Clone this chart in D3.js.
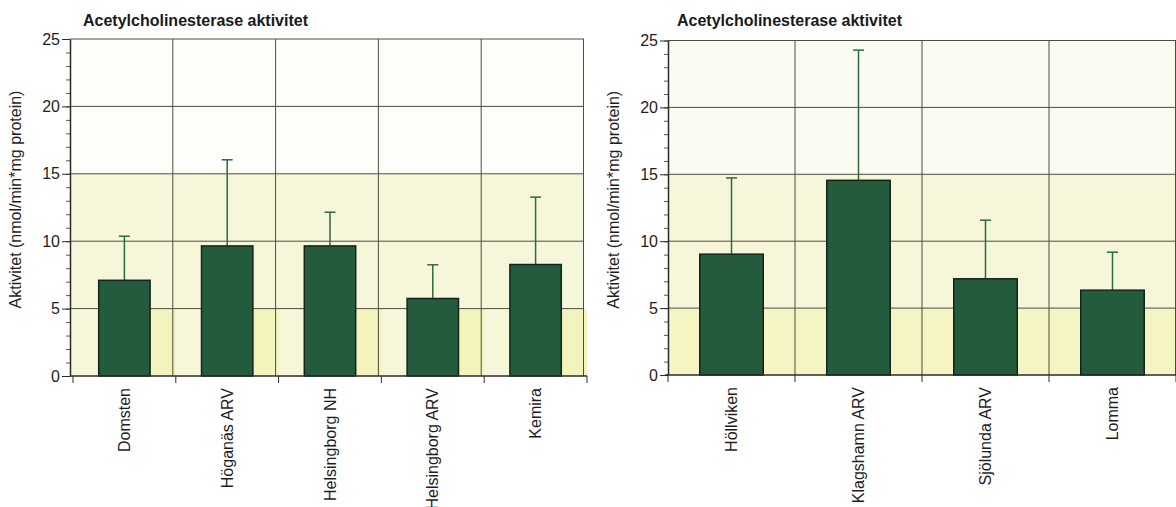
<!DOCTYPE html>
<html>
<head>
<meta charset="utf-8">
<script src="https://cdn.jsdelivr.net/npm/d3@7"></script>
<style>
  body { margin: 0; background: #fff; }
  svg { display: block; font-family: 'Liberation Sans', Arial, sans-serif; }
</style>
</head>
<body>
<div id="container"></div>
<script>
// values
let title = 'Acetylcholinesterase aktivitet'
let yLabel = 'Aktivitet (nmol/min*mg protein)'
let yTicks = [0, 5, 10, 15, 20, 25]

let leftSites = ['Domsten', 'Höganäs ARV', 'Helsingborg NH', 'Helsingborg ARV', 'Kemira']
let leftMeans = [7.1, 9.65, 9.65, 5.75, 8.27]
let leftSd = [3.27, 6.39, 2.5, 2.5, 5.0]

let rightSites = ['Höllviken', 'Klagshamn ARV', 'Sjölunda ARV', 'Lomma']
let rightMeans = [9.03, 14.55, 7.19, 6.34]
let rightSd = [5.7, 9.73, 4.38, 2.84]

// shaded background bands, in y units
let zones = [[0, 5], [5, 15], [15, 25]]

let width = 1176,
  height = 507

let svg = d3.select('#container')
  .append('svg')
  .attr('width', width)
  .attr('height', height)

drawChart({
  sites: leftSites, means: leftMeans, sd: leftSd,
  left: 70, right: 584, top: 39, bottom: 376, shift: 3,
  titleX: 83, labelX: 21,
  zoneColors: ['#f6f7d9', '#f6f7da', '#fdfdf9'], lowRight: true
})

drawChart({
  sites: rightSites, means: rightMeans, sd: rightSd,
  left: 668, right: 1176, top: 40.5, bottom: 375, shift: 0,
  titleX: 677, labelX: 619,
  zoneColors: ['#f4f5c3', '#f6f7da', '#fbfbf1'], lowRight: false
})

function drawChart(o) {
  let data = o.sites.map((s, i) => ({ site: s, mean: o.means[i], sd: o.sd[i] }))

  let x = d3.scaleBand().domain(o.sites).range([o.left, o.right])
  // bars take half of each column
  let xBar = d3.scaleBand().domain(o.sites).range([o.left, o.right])
    .paddingInner(0.5).paddingOuter(0.25)
  let y = d3.scaleLinear().domain([0, 25]).range([o.bottom, o.top])

  let g = svg.append('g')

  // background bands
  g.selectAll('rect.zone')
    .data(zones)
    .enter().append('rect')
    .attr('class', 'zone')
    .attr('x', o.left)
    .attr('width', o.right - o.left)
    .attr('y', d => y(d[1]))
    .attr('height', d => y(d[0]) - y(d[1]))
    .attr('fill', (d, i) => o.zoneColors[i])

  // stronger yellow floor on the right of every bar
  let floorW = o.lowRight ? x.bandwidth() * 0.25 : 0
  g.selectAll('rect.floor')
    .data(o.lowRight ? data : [])
    .enter().append('rect')
    .attr('x', d => x(d.site) + x.bandwidth() - floorW + o.shift)
    .attr('width', floorW)
    .attr('y', y(5))
    .attr('height', y(0) - y(5))
    .attr('fill', '#f3f4bd')

  // grid
  g.selectAll('line.hgrid')
    .data(yTicks.slice(1))
    .enter().append('line')
    .attr('x1', o.left).attr('x2', o.right)
    .attr('y1', d => y(d)).attr('y2', d => y(d))
    .attr('stroke', '#4b4e3f')
    .attr('stroke-width', 1)

  let bounds = o.sites.slice(1).map(s => x(s)).concat([o.right - 0.5])
  g.selectAll('line.vgrid')
    .data(bounds)
    .enter().append('line')
    .attr('x1', d => d).attr('x2', d => d)
    .attr('y1', o.top).attr('y2', o.bottom)
    .attr('stroke', '#4b4e3f')
    .attr('stroke-width', 1)

  // bars and error bars
  let bars = g.append('g').attr('transform', `translate(${o.shift},0)`)

  bars.selectAll('line.err')
    .data(data)
    .enter().append('line')
    .attr('x1', d => x(d.site) + x.bandwidth() / 2)
    .attr('x2', d => x(d.site) + x.bandwidth() / 2)
    .attr('y1', d => y(d.mean))
    .attr('y2', d => y(d.mean + d.sd))
    .attr('stroke', '#2b6a40')
    .attr('stroke-width', 1.5)

  bars.selectAll('line.cap')
    .data(data)
    .enter().append('line')
    .attr('x1', d => x(d.site) + x.bandwidth() / 2 - 5.5)
    .attr('x2', d => x(d.site) + x.bandwidth() / 2 + 5.5)
    .attr('y1', d => y(d.mean + d.sd))
    .attr('y2', d => y(d.mean + d.sd))
    .attr('stroke', '#2b6a40')
    .attr('stroke-width', 1.5)

  bars.selectAll('rect.bar')
    .data(data)
    .enter().append('rect')
    .attr('x', d => xBar(d.site))
    .attr('width', xBar.bandwidth())
    .attr('y', d => y(d.mean))
    .attr('height', d => y(0) - y(d.mean))
    .attr('fill', '#235b3c')
    .attr('stroke', '#14241a')
    .attr('stroke-width', 1.5)

  // y axis, minor then major ticks
  g.append('g')
    .attr('transform', `translate(${o.left},0)`)
    .call(d3.axisLeft(y).tickValues(d3.range(0, 26)).tickSize(4).tickFormat(''))
    .call(a => a.select('.domain').remove())
    .call(a => a.selectAll('line').attr('stroke', '#555'))

  g.append('g')
    .attr('transform', `translate(${o.left},0)`)
    .call(d3.axisLeft(y).tickValues(yTicks).tickSize(8).tickSizeOuter(0).tickPadding(2))
    .call(a => a.select('.domain').attr('stroke', '#2b2b2b').attr('stroke-width', 1.5))
    .call(a => a.selectAll('line').attr('stroke', '#2b2b2b'))
    .call(a => a.selectAll('text')
      .attr('font-size', 16)
      .attr('fill', '#1e1e1e')
      .attr('font-family', "'Liberation Sans', Arial, sans-serif"))

  // x axis with ticks at the column edges
  let xa = g.append('g').attr('transform', `translate(${o.shift},0)`)
  xa.append('line')
    .attr('x1', o.left - 3).attr('x2', o.right)
    .attr('y1', o.bottom).attr('y2', o.bottom)
    .attr('stroke', '#2b2b2b')
    .attr('stroke-width', 1.5)

  xa.selectAll('line.xtick')
    .data(o.sites.map(s => x(s)).concat([o.right]))
    .enter().append('line')
    .attr('x1', d => d).attr('x2', d => d)
    .attr('y1', o.bottom).attr('y2', o.bottom + 7)
    .attr('stroke', '#2b2b2b')
    .attr('stroke-width', 1)

  xa.selectAll('text.site')
    .data(data)
    .enter().append('text')
    .attr('transform', d => `translate(${x(d.site) + x.bandwidth() / 2},${o.bottom + 12}) rotate(-90)`)
    .attr('dy', '0.35em')
    .attr('text-anchor', 'end')
    .attr('font-size', 16)
    .attr('fill', '#1e1e1e')
    .text(d => d.site)

  // titles
  g.append('text')
    .attr('x', o.titleX)
    .attr('y', 26)
    .attr('font-size', 16)
    .attr('font-weight', 'bold')
    .attr('fill', '#1a1a1a')
    .text(title)

  g.append('text')
    .attr('transform', `translate(${o.labelX},${(o.top + o.bottom) / 2 - 8}) rotate(-90)`)
    .attr('text-anchor', 'middle')
    .attr('font-size', 16)
    .attr('fill', '#1e1e1e')
    .text(yLabel)
}
</script>
</body>
</html>
